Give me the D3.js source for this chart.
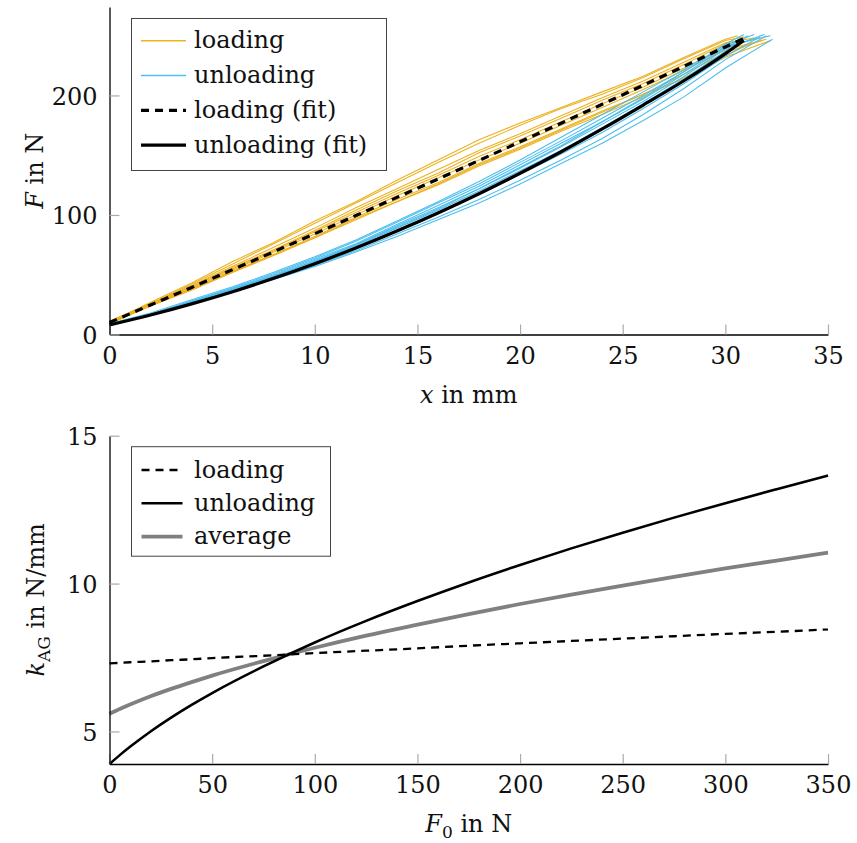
<!DOCTYPE html>
<html>
<head>
<meta charset="utf-8">
<script src="https://cdn.jsdelivr.net/npm/d3@7"></script>
<style>
  body { margin: 0; background: #fff; }
  svg { display: block; }
</style>
</head>
<body>
<script>
// ---- Force–displacement measurements (x in mm, F in N) ----
const rawX = [0, 2, 4, 6, 8, 10, 12, 14, 16, 18, 20, 22, 24, 26, 28, 30];

const loadingRuns = [
  [10, 27, 43, 61, 77, 95, 111, 129, 146, 163, 177, 190, 203, 216, 232, 247],
  [11, 26, 42, 59, 76, 93, 110, 127, 144, 160, 175, 189, 201, 215, 231, 246],
  [11, 26, 41, 57, 73, 89, 106, 122, 138, 154, 168, 183, 198, 212, 228, 244],
  [10, 26, 40, 56, 71, 87, 104, 120, 135, 152, 166, 181, 196, 210, 226, 243],
  [10, 25, 40, 55, 70, 86, 102, 118, 133, 149, 163, 178, 193, 207, 223, 240],
  [9, 25, 39, 54, 69, 84, 100, 116, 131, 146, 160, 175, 190, 205, 221, 238],
  [9, 24, 38, 53, 67, 82, 98, 113, 127, 143, 157, 172, 187, 201, 218, 236],
  [9, 24, 37, 52, 66, 81, 96, 111, 125, 141, 155, 170, 184, 199, 215, 233],
  [10, 24, 38, 52, 67, 81, 97, 111, 126, 142, 156, 171, 186, 201, 214, 232]
];
const loadingEndX = [30.6, 30.9, 31.4, 31.0, 31.6, 32.0, 31.8, 31.3, 32.2];
const loadingEndF = [250, 249, 248, 247, 248, 247, 246, 244, 246];

const unloadingRuns = [
  [9, 18, 29, 40, 52, 65, 79, 95, 111, 128, 146, 165, 184, 203, 222, 242],
  [9, 17, 28, 39, 51, 64, 78, 94, 110, 126, 144, 162, 181, 200, 220, 241],
  [8, 17, 28, 38, 50, 63, 76, 92, 108, 124, 142, 160, 178, 197, 218, 240],
  [8, 17, 27, 38, 49, 62, 75, 91, 106, 122, 139, 157, 176, 195, 216, 239],
  [8, 16, 27, 37, 49, 61, 74, 89, 104, 120, 137, 154, 173, 193, 214, 237],
  [8, 16, 26, 37, 48, 60, 73, 87, 102, 117, 134, 151, 169, 189, 210, 233],
  [8, 16, 26, 36, 47, 58, 70, 84, 98, 113, 129, 146, 164, 184, 206, 230],
  [8, 16, 26, 36, 46, 57, 69, 82, 96, 110, 126, 143, 160, 179, 199, 223],
  [9, 17, 27, 38, 49, 61, 75, 90, 105, 122, 140, 158, 178, 198, 220, 243]
];
const unloadingEndX = [31.4, 32.2, 31.1, 31.9, 30.7, 31.7, 32.0, 32.3, 30.9];
const unloadingEndF = [251, 250, 250, 251, 248, 249, 250, 247, 251];

// Fitted curves
const fitX = [0, 2, 4, 6, 8, 10, 12, 14, 16, 18, 20, 22, 24, 26, 28, 30, 30.9];
const loadingFit = [10, 24.7, 39.4, 54.3, 69.2, 84.3, 99.5, 114.7, 130.1, 145.6, 161.2, 176.8, 192.6, 208.5, 224.5, 240.6, 247.5];
const unloadingFit = [8, 16.3, 25.6, 35.8, 47.0, 59.2, 72.4, 86.6, 101.7, 117.8, 134.9, 152.9, 172, 192, 212.5, 235, 246];

const forceTicksX = [0, 5, 10, 15, 20, 25, 30, 35];
const forceTicksY = [0, 100, 200];
const topLegend = ["loading", "unloading", "loading (fit)", "unloading (fit)"];

// ---- Stiffness over preload (F0 in N, k in N/mm) ----
const f0 = [0, 5, 10, 20, 30, 40, 50, 75, 100, 125, 150, 175, 200, 225, 250, 275, 300, 325, 350];
const kLoading = [7.30, 7.32, 7.34, 7.37, 7.41, 7.44, 7.48, 7.56, 7.65, 7.73, 7.81, 7.90, 7.98, 8.06, 8.14, 8.22, 8.30, 8.37, 8.45];
const kUnloading = [3.90, 4.20, 4.48, 5.00, 5.47, 5.90, 6.30, 7.20, 8.01, 8.74, 9.41, 10.04, 10.63, 11.19, 11.72, 12.23, 12.72, 13.19, 13.65];
const kAverage = [5.60, 5.76, 5.91, 6.19, 6.44, 6.67, 6.89, 7.38, 7.83, 8.24, 8.61, 8.97, 9.31, 9.63, 9.93, 10.23, 10.51, 10.78, 11.05];

const f0Ticks = [0, 50, 100, 150, 200, 250, 300, 350];
const kTicks = [5, 10, 15];
const bottomLegend = ["loading", "unloading", "average"];

// ---- Styles ----
const ORANGE = "#EDB120";
const BLUE = "#4DBEEE";
const GREY = "#808080";
const FONT = "DejaVu Serif";

const svg = d3.select("body").append("svg")
  .attr("width", 857).attr("height", 843)
  .style("font-family", FONT).style("font-size", "24px");

const plotL = 109.5, plotR = 828;

function drawAxes(g, x, y, xTicks, yTicks, h) {
  const ax = g.append("g").attr("transform", `translate(0,${h})`)
    .call(d3.axisBottom(x).tickValues(xTicks).tickFormat(d3.format("d"))
      .tickSizeInner(-10).tickSizeOuter(0).tickPadding(12));
  const ay = g.append("g")
    .call(d3.axisLeft(y).tickValues(yTicks).tickFormat(d3.format("d"))
      .tickSizeInner(-10).tickSizeOuter(0).tickPadding(12));
  [ax, ay].forEach(a => {
    a.attr("font-family", FONT).attr("font-size", 24);
    a.select(".domain").attr("stroke", "#000").attr("stroke-width", 1.3);
    a.selectAll(".tick line").attr("stroke", "#aaaaaa").attr("stroke-width", 1.2);
    a.selectAll(".tick text").attr("fill", "#111");
  });
  ay.selectAll(".tick text").attr("dy", "0.36em");
}

// ================= Top panel =================
const topBox = { t: 7, b: 334.5 };
const gTop = svg.append("g").attr("transform", `translate(${plotL},${topBox.t})`);
const wPlot = plotR - plotL, hTop = topBox.b - topBox.t;
const xF = d3.scaleLinear().domain([0, 35]).range([0, wPlot]);
const yF = d3.scaleLinear().domain([0, 274]).range([hTop, 0]);

const rawLine = d3.line().x(d => xF(d[0])).y(d => yF(d[1]));
const runPoints = (run, ex, ef) => run.map((v, i) => [rawX[i], v]).concat([[ex, ef]]);

loadingRuns.forEach((run, i) => {
  gTop.append("path").attr("d", rawLine(runPoints(run, loadingEndX[i], loadingEndF[i])))
    .attr("fill", "none").attr("stroke", ORANGE).attr("stroke-width", 1.1);
});
unloadingRuns.forEach((run, i) => {
  gTop.append("path").attr("d", rawLine(runPoints(run, unloadingEndX[i], unloadingEndF[i])))
    .attr("fill", "none").attr("stroke", BLUE).attr("stroke-width", 1.1);
});

const fitLine = d3.line().x(d => xF(d[0])).y(d => yF(d[1])).curve(d3.curveMonotoneX);
gTop.append("path").attr("d", fitLine(fitX.map((v, i) => [v, loadingFit[i]])))
  .attr("fill", "none").attr("stroke", "#000").attr("stroke-width", 3.2).attr("stroke-dasharray", "8,6");
gTop.append("path").attr("d", fitLine(fitX.map((v, i) => [v, unloadingFit[i]])))
  .attr("fill", "none").attr("stroke", "#000").attr("stroke-width", 3.2);

drawAxes(gTop, xF, yF, forceTicksX, forceTicksY, hTop);

// Top axis titles
svg.append("text").attr("x", (plotL + plotR) / 2).attr("y", 403).attr("text-anchor", "middle")
  .attr("fill", "#111")
  .call(t => { t.append("tspan").attr("font-style", "italic").text("x"); t.append("tspan").text(" in mm"); });
svg.append("text").attr("transform", `translate(43,${(topBox.t + topBox.b) / 2}) rotate(-90)`)
  .attr("text-anchor", "middle").attr("fill", "#111")
  .call(t => { t.append("tspan").attr("font-style", "italic").text("F"); t.append("tspan").text(" in N"); });

// Top legend
const lgTop = svg.append("g");
lgTop.append("rect").attr("x", 131.5).attr("y", 18.5).attr("width", 255).attr("height", 152)
  .attr("fill", "#fff").attr("stroke", "#444").attr("stroke-width", 1);
const topStyles = [
  { c: ORANGE, w: 1.6, d: null },
  { c: BLUE, w: 1.6, d: null },
  { c: "#000", w: 3.2, d: "8,6" },
  { c: "#000", w: 3.2, d: null }
];
topLegend.forEach((label, i) => {
  const cy = 40.7 + i * 34.8;
  lgTop.append("line").attr("x1", 141).attr("x2", 186).attr("y1", cy).attr("y2", cy)
    .attr("stroke", topStyles[i].c).attr("stroke-width", topStyles[i].w)
    .attr("stroke-dasharray", topStyles[i].d);
  lgTop.append("text").attr("x", 194).attr("y", cy + 7.7).attr("fill", "#111").text(label);
});

// ================= Bottom panel =================
const botBox = { t: 435.7, b: 764 };
const gBot = svg.append("g").attr("transform", `translate(${plotL},${botBox.t})`);
const hBot = botBox.b - botBox.t;
const xK = d3.scaleLinear().domain([0, 350]).range([0, wPlot]);
const yK = d3.scaleLinear().domain([3.9, 15]).range([hBot, 0]);

const kLine = d3.line().x(d => xK(d[0])).y(d => yK(d[1])).curve(d3.curveMonotoneX);
gBot.append("path").attr("d", kLine(f0.map((v, i) => [v, kAverage[i]])))
  .attr("fill", "none").attr("stroke", GREY).attr("stroke-width", 3.8);
gBot.append("path").attr("d", kLine(f0.map((v, i) => [v, kLoading[i]])))
  .attr("fill", "none").attr("stroke", "#000").attr("stroke-width", 2.3).attr("stroke-dasharray", "8,6");
gBot.append("path").attr("d", kLine(f0.map((v, i) => [v, kUnloading[i]])))
  .attr("fill", "none").attr("stroke", "#000").attr("stroke-width", 2.6);

drawAxes(gBot, xK, yK, f0Ticks, kTicks, hBot);

// Bottom axis titles
svg.append("text").attr("x", (plotL + plotR) / 2).attr("y", 832).attr("text-anchor", "middle")
  .attr("fill", "#111")
  .call(t => {
    t.append("tspan").attr("font-style", "italic").text("F");
    t.append("tspan").attr("font-size", 17).attr("dy", 6).text("0");
    t.append("tspan").attr("dy", -6).text(" in N");
  });
svg.append("text").attr("transform", `translate(44,${(botBox.t + botBox.b) / 2}) rotate(-90)`)
  .attr("text-anchor", "middle").attr("fill", "#111")
  .call(t => {
    t.append("tspan").attr("font-style", "italic").text("k");
    t.append("tspan").attr("font-size", 17).attr("dy", 6).text("AG");
    t.append("tspan").attr("dy", -6).text(" in N/mm");
  });

// Bottom legend
const lgBot = svg.append("g");
lgBot.append("rect").attr("x", 131.5).attr("y", 446.7).attr("width", 199).attr("height", 109.5)
  .attr("fill", "#fff").attr("stroke", "#444").attr("stroke-width", 1);
const botStyles = [
  { c: "#000", w: 2.3, d: "8,6" },
  { c: "#000", w: 2.6, d: null },
  { c: GREY, w: 3.8, d: null }
];
bottomLegend.forEach((label, i) => {
  const cy = 470 + i * 33.3;
  lgBot.append("line").attr("x1", 141.5).attr("x2", 182.5).attr("y1", cy).attr("y2", cy)
    .attr("stroke", botStyles[i].c).attr("stroke-width", botStyles[i].w)
    .attr("stroke-dasharray", botStyles[i].d);
  lgBot.append("text").attr("x", 194).attr("y", cy + 7.7).attr("fill", "#111").text(label);
});
</script>
</body>
</html>
